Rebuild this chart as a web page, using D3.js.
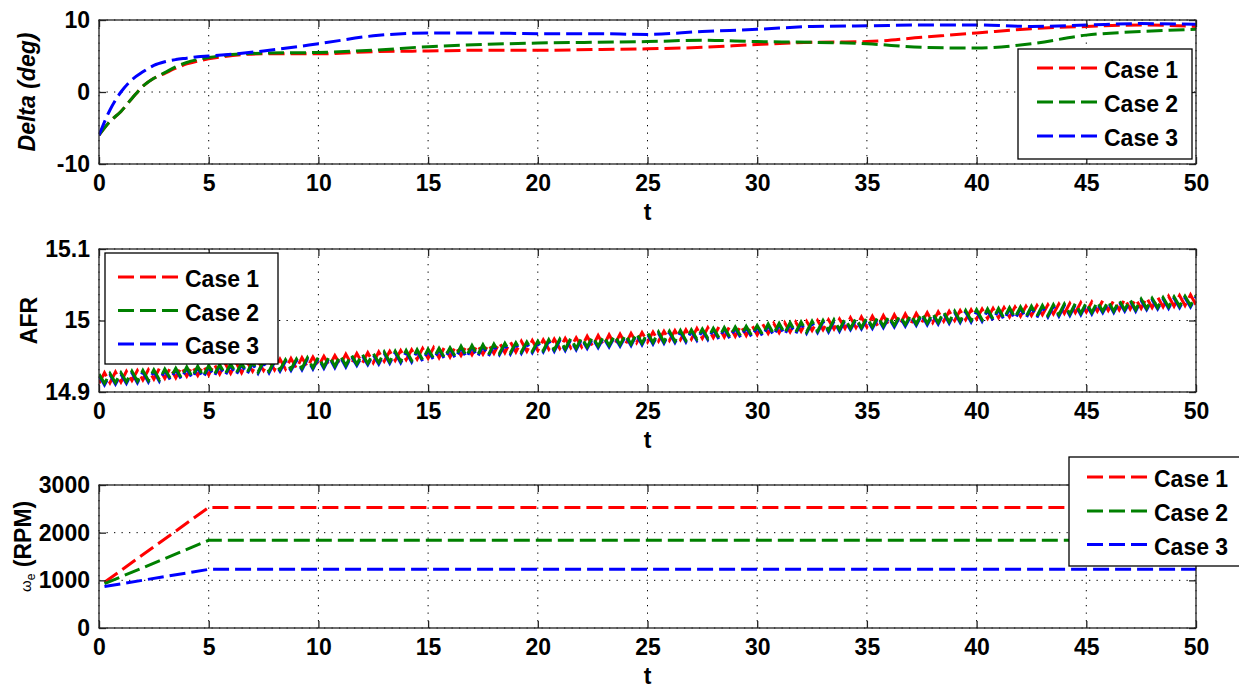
<!DOCTYPE html>
<html><head><meta charset="utf-8">
<script src="https://cdn.jsdelivr.net/npm/d3@7"></script>
<style>
body{margin:0;background:#fff;}
svg text{font-family:"Liberation Sans",Arial,sans-serif;font-weight:bold;fill:#000;}
</style></head><body>
<svg id="chart" width="1239" height="688"></svg>
<script>
// ---------- data ----------
const xTicks = [0,5,10,15,20,25,30,35,40,45,50];
const caseNames = ["Case 1","Case 2","Case 3"];
const caseColors = ["#ff0000","#008000","#0000ff"];

// Panel 1: Delta (deg)
const deltaTicks = [-10,0,10];
const deltaTime  = [0,0.5,1,1.5,2,2.5,3,3.5,4,4.5,5,7.5,10,12.5,15,17.5,20,22.5,25,27.5,30,32.5,35,37.5,40,42.5,45,47.5,50];
const deltaCase1 = [-6,-4.1,-2.7,-0.9,0.8,1.9,2.6,3.3,3.9,4.3,4.6,5.3,5.3,5.6,5.7,5.8,5.8,5.9,6.0,6.2,6.6,6.9,7.0,7.6,8.2,8.8,9.1,9.3,9.1];
const deltaCase2 = [-6,-4.1,-2.7,-0.9,0.8,1.9,2.7,3.5,4.1,4.5,4.8,5.4,5.5,5.8,6.3,6.6,6.8,6.9,7.0,7.2,7.0,6.9,6.7,6.2,6.1,6.7,7.9,8.4,8.7];
const deltaCase3 = [-6,-2.5,0.0,1.7,2.8,3.7,4.2,4.5,4.7,4.9,5.0,5.7,6.7,7.8,8.2,8.2,8.1,8.1,8.0,8.4,8.7,9.1,9.2,9.3,9.3,9.1,9.3,9.5,9.4];

// Panel 2: AFR (sampled every 0.25 s, t = 0 .. 50)
const afrTicks = [14.9,15,15.1];
const afrTickLabels = ["14.9","15","15.1"];
const afrTime = d3.range(0, 50.001, 0.25);
const afrCase1 = [
14.912,14.927,14.913,14.928, 14.914,14.929,14.916,14.930, 14.917,14.931,14.918,14.933, 14.919,14.934,14.920,14.935, 14.922,14.936,14.923,14.937,
14.924,14.939,14.925,14.940, 14.926,14.941,14.927,14.942, 14.929,14.943,14.930,14.944, 14.931,14.946,14.932,14.947, 14.933,14.948,14.935,14.949,
14.936,14.950,14.937,14.951, 14.938,14.953,14.939,14.954, 14.940,14.955,14.941,14.956, 14.943,14.957,14.944,14.958, 14.945,14.959,14.946,14.961,
14.947,14.962,14.948,14.963, 14.949,14.964,14.951,14.965, 14.952,14.966,14.953,14.967, 14.954,14.969,14.955,14.970, 14.956,14.971,14.957,14.972,
14.958,14.973,14.960,14.974, 14.961,14.975,14.962,14.976, 14.963,14.978,14.964,14.979, 14.965,14.980,14.966,14.981, 14.967,14.982,14.969,14.983,
14.970,14.984,14.971,14.985, 14.972,14.986,14.973,14.987, 14.974,14.989,14.975,14.990, 14.976,14.991,14.977,14.992, 14.978,14.993,14.979,14.994,
14.980,14.995,14.982,14.996, 14.983,14.997,14.984,14.998, 14.985,14.999,14.986,15.000, 14.987,15.001,14.988,15.002, 14.989,15.004,14.990,15.005,
14.991,15.006,14.992,15.007, 14.993,15.008,14.994,15.009, 14.995,15.010,14.997,15.011, 14.997,15.012,14.999,15.013, 15.000,15.014,15.001,15.015,
15.002,15.016,15.003,15.017, 15.004,15.018,15.005,15.019, 15.006,15.020,15.007,15.021, 15.008,15.022,15.009,15.023, 15.010,15.024,15.011,15.025,
15.012,15.026,15.013,15.028, 15.014,15.028,15.015,15.030, 15.016,15.030,15.017,15.032, 15.018,15.033,15.019,15.034, 15.020,15.035,15.021,15.036,
15.022];
const afrCase2 = [
14.925,14.912,14.926,14.913, 14.927,14.914,14.929,14.915, 14.930,14.916,14.931,14.917, 14.932,14.919,14.933,14.920, 14.935,14.921,14.936,14.922,
14.937,14.924,14.938,14.925, 14.939,14.926,14.940,14.927, 14.942,14.928,14.943,14.929, 14.944,14.931,14.945,14.932, 14.946,14.933,14.948,14.934,
14.949,14.935,14.950,14.936, 14.951,14.937,14.952,14.939, 14.953,14.940,14.954,14.941, 14.956,14.942,14.957,14.943, 14.958,14.944,14.959,14.945,
14.960,14.947,14.961,14.948, 14.962,14.949,14.964,14.950, 14.965,14.951,14.966,14.952, 14.967,14.954,14.968,14.955, 14.969,14.956,14.970,14.957,
14.971,14.958,14.973,14.959, 14.974,14.960,14.975,14.961, 14.976,14.963,14.977,14.964, 14.978,14.965,14.979,14.966, 14.980,14.967,14.982,14.968,
14.983,14.969,14.984,14.970, 14.985,14.971,14.986,14.972, 14.987,14.974,14.988,14.975, 14.989,14.976,14.990,14.977, 14.991,14.978,14.992,14.979,
14.993,14.980,14.995,14.981, 14.996,14.982,14.997,14.983, 14.998,14.984,14.999,14.985, 15.000,14.986,15.001,14.987, 15.002,14.989,15.003,14.990,
15.004,14.991,15.005,14.992, 15.006,14.993,15.007,14.994, 15.008,14.995,15.010,14.996, 15.010,14.997,15.012,14.998, 15.013,14.999,15.014,15.000,
15.015,15.001,15.016,15.002, 15.017,15.003,15.018,15.004, 15.019,15.005,15.020,15.006, 15.021,15.007,15.022,15.008, 15.023,15.009,15.024,15.010,
15.025,15.011,15.026,15.013, 15.027,15.013,15.028,15.015, 15.029,15.015,15.030,15.017, 15.031,15.018,15.032,15.019, 15.033,15.020,15.034,15.021,
15.035];
const afrCase3 = [
14.923,14.910,14.924,14.911, 14.925,14.912,14.927,14.913, 14.928,14.914,14.929,14.915, 14.930,14.917,14.931,14.918, 14.933,14.919,14.934,14.920,
14.935,14.922,14.936,14.923, 14.937,14.924,14.938,14.925, 14.940,14.926,14.941,14.927, 14.942,14.929,14.943,14.930, 14.944,14.931,14.946,14.932,
14.947,14.933,14.948,14.934, 14.949,14.935,14.950,14.937, 14.951,14.938,14.952,14.939, 14.954,14.940,14.955,14.941, 14.956,14.942,14.957,14.943,
14.958,14.945,14.959,14.946, 14.960,14.947,14.962,14.948, 14.963,14.949,14.964,14.950, 14.965,14.952,14.966,14.953, 14.967,14.954,14.968,14.955,
14.969,14.956,14.971,14.957, 14.972,14.958,14.973,14.959, 14.974,14.961,14.975,14.962, 14.976,14.963,14.977,14.964, 14.978,14.965,14.980,14.966,
14.981,14.967,14.982,14.968, 14.983,14.969,14.984,14.970, 14.985,14.972,14.986,14.973, 14.987,14.974,14.988,14.975, 14.989,14.976,14.990,14.977,
14.991,14.978,14.993,14.979, 14.994,14.980,14.995,14.981, 14.996,14.982,14.997,14.983, 14.998,14.984,14.999,14.985, 15.000,14.987,15.001,14.988,
15.002,14.989,15.003,14.990, 15.004,14.991,15.005,14.992, 15.006,14.993,15.008,14.994, 15.008,14.995,15.010,14.996, 15.011,14.997,15.012,14.998,
15.013,14.999,15.014,15.000, 15.015,15.001,15.016,15.002, 15.017,15.003,15.018,15.004, 15.019,15.005,15.020,15.006, 15.021,15.007,15.022,15.008,
15.023,15.009,15.024,15.011, 15.025,15.011,15.026,15.013, 15.027,15.013,15.028,15.015, 15.029,15.016,15.030,15.017, 15.031,15.018,15.032,15.019,
15.033];

// Panel 3: engine speed (RPM)
const rpmTicks = [0,1000,2000,3000];
const rpmTime  = [0.25,5,50];
const rpmCase1 = [960,2530,2530];
const rpmCase2 = [930,1840,1840];
const rpmCase3 = [870,1230,1230];

// ---------- layout ----------
const svg = d3.select("#chart");
const X0 = 99, X1 = 1196;
const x = d3.scaleLinear().domain([0,50]).range([X0,X1]);
const FONT = 23;

const panels = [
  {top:20, bottom:164, domain:[-10,10], ticks:deltaTicks, labels:deltaTicks.map(String),
   time:deltaTime, series:[deltaCase1,deltaCase2,deltaCase3], order:[0,1,2], curve:d3.curveMonotoneX,
   ylabel:"delta", legend:{x:1018,y:49,w:174,h:110,rows:[68,102,136],lx1:1037,lx2:1098,tx:1104}},
  {top:249, bottom:392, domain:[14.9,15.1], ticks:afrTicks, labels:afrTickLabels,
   time:afrTime, series:[afrCase1,afrCase2,afrCase3], order:[0,2,1], curve:d3.curveLinear,
   ylabel:"afr", legend:{x:105,y:253,w:173,h:111,rows:[277,310.5,344],lx1:118,lx2:179,tx:185}},
  {top:485, bottom:628, domain:[0,3000], ticks:rpmTicks, labels:rpmTicks.map(String),
   time:rpmTime, series:[rpmCase1,rpmCase2,rpmCase3], order:[0,1,2], curve:d3.curveLinear,
   ylabel:"rpm", legend:{x:1069,y:457,w:174,h:109,rows:[477,511,544.5],lx1:1087,lx2:1148,tx:1154}}
];

panels.forEach((p, pi) => {
  const y = d3.scaleLinear().domain(p.domain).range([p.bottom, p.top]);
  const g = svg.append("g");

  // grid
  const grid = g.append("g").attr("stroke","#000").attr("stroke-width",1).attr("stroke-dasharray","1.3,6.2");
  xTicks.forEach(t => grid.append("line").attr("x1",x(t)).attr("x2",x(t)).attr("y1",p.top).attr("y2",p.bottom));
  p.ticks.forEach(v => grid.append("line").attr("x1",X0).attr("x2",X1).attr("y1",y(v)).attr("y2",y(v)));

  // clip
  const cid = "clip"+pi;
  svg.append("clipPath").attr("id",cid).append("rect")
    .attr("x",X0).attr("y",p.top-2).attr("width",X1-X0).attr("height",p.bottom-p.top+4);

  // lines
  const line = d3.line().x((d,i)=>x(p.time[i])).y(d=>y(d)).curve(p.curve);
  const lg = g.append("g").attr("clip-path",`url(#${cid})`);
  p.order.forEach(k => {
    lg.append("path").datum(p.series[k]).attr("d",line)
      .attr("fill","none").attr("stroke",caseColors[k]).attr("stroke-width",3)
      .attr("stroke-dasharray","16,6");
  });

  // axes
  const axStyle = sel => { sel.select(".domain").remove();
    sel.selectAll(".tick line").attr("stroke","#222").attr("stroke-width",1.3);
    sel.selectAll(".tick text").attr("font-size",FONT).attr("font-weight","bold")
      .attr("font-family","'Liberation Sans',Arial,sans-serif").attr("fill","#000"); };
  g.append("g").attr("transform",`translate(0,${p.bottom})`)
    .call(d3.axisBottom(x).tickValues(xTicks).tickSizeInner(-7).tickSizeOuter(0).tickPadding(10.5).tickFormat(d3.format("d")))
    .call(axStyle);
  g.append("g").attr("transform",`translate(0,${p.top})`)
    .call(d3.axisTop(x).tickValues(xTicks).tickSizeInner(-7).tickSizeOuter(0).tickFormat(""))
    .call(axStyle);
  g.append("g").attr("transform",`translate(${X0},0)`)
    .call(d3.axisLeft(y).tickValues(p.ticks).tickSizeInner(-7).tickSizeOuter(0).tickPadding(9)
      .tickFormat((d,i)=>p.labels[i]))
    .call(axStyle);
  g.append("g").attr("transform",`translate(${X1},0)`)
    .call(d3.axisRight(y).tickValues(p.ticks).tickSizeInner(-7).tickSizeOuter(0).tickFormat(""))
    .call(axStyle);

  // frame
  g.append("rect").attr("x",X0).attr("y",p.top).attr("width",X1-X0).attr("height",p.bottom-p.top)
    .attr("fill","none").attr("stroke","#222").attr("stroke-width",1.3);

  // x label
  g.append("text").attr("x",(X0+X1)/2).attr("y",p.bottom+56).attr("text-anchor","middle")
    .attr("font-size",FONT).text("t");

  // y label
  const cy = (p.top+p.bottom)/2;
  if (p.ylabel==="delta") {
    g.append("text").attr("transform",`translate(35,${cy}) rotate(-90)`).attr("text-anchor","middle")
      .attr("font-size",FONT).attr("font-style","italic").text("Delta (deg)");
  } else if (p.ylabel==="afr") {
    g.append("text").attr("transform",`translate(36.5,${cy}) rotate(-90)`).attr("text-anchor","middle")
      .attr("font-size",FONT).text("AFR");
  } else {
    const t = g.append("text").attr("transform",`translate(31,592) rotate(-90)`).attr("text-anchor","start")
      .attr("font-size",FONT);
    t.append("tspan").attr("font-size",15).attr("font-weight","normal").text("ω");
    t.append("tspan").attr("font-size",12).attr("font-weight","normal").attr("dy",4).text("e");
    t.append("tspan").attr("dy",-4).text(" (RPM)");
  }

  // legend
  const L = p.legend;
  const leg = svg.append("g");
  leg.append("rect").attr("x",L.x).attr("y",L.y).attr("width",L.w).attr("height",L.h)
    .attr("fill","#fff").attr("stroke","#000").attr("stroke-width",1.3);
  caseNames.forEach((name,k) => {
    leg.append("line").attr("x1",L.lx1).attr("x2",L.lx2).attr("y1",L.rows[k]).attr("y2",L.rows[k])
      .attr("stroke",caseColors[k]).attr("stroke-width",3).attr("stroke-dasharray","16,6");
    leg.append("text").attr("x",L.tx).attr("y",L.rows[k]+10.3).attr("font-size",FONT).text(name);
  });
});
</script>
</body></html>
